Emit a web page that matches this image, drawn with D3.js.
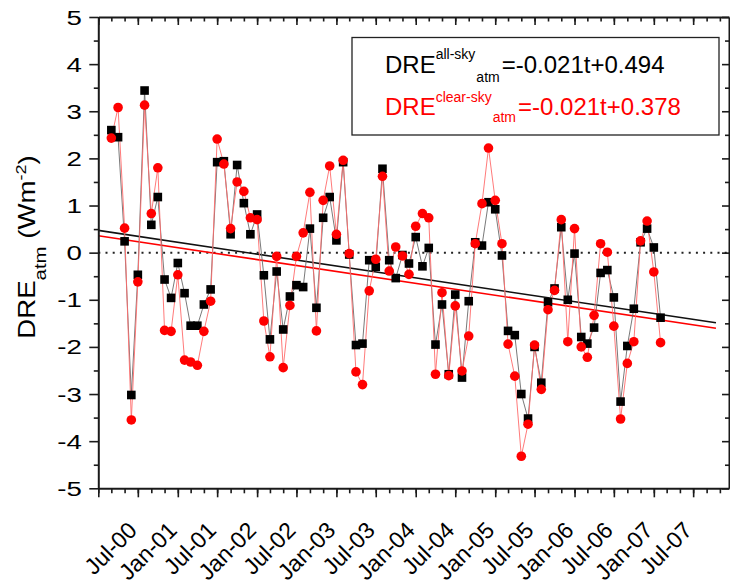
<!DOCTYPE html>
<html><head><meta charset="utf-8">
<script src="https://cdn.jsdelivr.net/npm/d3@7"></script>
<style>
body{margin:0;background:#fff}
svg{display:block}
text{font-family:"Liberation Sans",Arial,sans-serif}
</style>
</head><body>
<svg id="c" width="730" height="586"></svg>
<script>
// ---------------- data ----------------
const firstMonth = "2000-03";           // first monthly value (Mar-2000)
const allSky = [2.60,2.45,0.24,-3.02,-0.47,3.44,0.59,1.18,-0.57,-0.96,-0.22,-0.86,-1.55,-1.55,-1.10,-0.78,
  1.92,1.94,0.39,1.86,1.05,0.39,0.81,-0.48,-1.84,-0.40,-1.63,-0.93,-0.69,-0.73,0.51,-1.17,0.74,1.18,0.26,1.92,
  -0.04,-1.96,-1.93,-0.16,-0.30,1.78,-0.16,-0.54,-0.05,-0.23,0.33,-0.29,0.10,-1.95,-1.10,-2.58,-0.89,-2.65,
  -1.03,0.22,0.15,1.07,0.92,-0.06,-1.66,-1.75,-3.00,-3.52,-2.00,-2.76,-1.05,-0.76,0.54,-1.00,-0.02,-1.79,
  -1.93,-1.59,-0.43,-0.37,-0.95,-3.16,-1.98,-1.19,0.22,0.51,0.11,-1.38];
const clearSky = [2.43,3.08,0.52,-3.55,-0.62,3.13,0.83,1.80,-1.65,-1.67,-0.47,-2.28,-2.32,-2.39,-1.67,-1.03,
  2.41,1.88,0.51,1.50,1.30,0.74,0.70,-1.45,-2.21,-0.08,-2.44,-1.12,-0.08,0.42,1.28,-1.66,1.11,1.84,0.39,1.96,
  -0.02,-2.53,-2.80,-0.81,-0.14,1.62,-0.39,0.12,-0.07,-0.46,0.56,0.83,0.74,-2.58,-0.85,-2.61,-1.13,-2.51,
  -1.77,0.19,1.04,2.22,1.11,0.19,-1.94,-2.62,-4.32,-3.64,-1.96,-2.90,-1.21,-0.80,0.70,-1.89,0.51,-2.00,
  -2.22,-1.33,0.19,0.01,-1.56,-3.53,-2.35,-1.89,0.25,0.67,-0.41,-1.91];
const xTickLabels = ["Jul-00","Jan-01","Jul-01","Jan-02","Jul-02","Jan-03","Jul-03","Jan-04",
  "Jul-04","Jan-05","Jul-05","Jan-06","Jul-06","Jan-07","Jul-07"];
const yTicks = [-5,-4,-3,-2,-1,0,1,2,3,4,5];
const seriesNames = ["all-sky","clear-sky"];
const trendSlope = [-0.021,-0.021];
const trendIntercept = [0.494,0.378];
const trendRange = ["2000-01-01","2007-10-14"];

// ---------------- layout ----------------
const svg = d3.select("#c");
const L = 98.3, R = 729, T = 17, B = 488.3;
const parseM = d3.timeParse("%Y-%m");
const parseD = d3.timeParse("%Y-%m-%d");
const parseLab = d3.timeParse("%b-%y");
const x0 = parseD("2000-01-01");
const x = d3.scaleTime().domain([x0, parseD("2007-12-13")]).range([L, R]);
const y = d3.scaleLinear().domain([-5, 5]).range([B, T]);
const start = parseM(firstMonth);
const dates = allSky.map((_, i) => d3.timeMonth.offset(start, i));

const majorX = [x0].concat(xTickLabels.map(s => parseLab(s)));
const minorX = d3.timeMonth.every(2).range(x0, parseD("2007-12-13"));
const minorY = d3.range(-4.5, 5, 1);

function styleAxis(g, w) {
  g.select(".domain").attr("stroke", "#1a1a1a").attr("stroke-width", 2);
  g.selectAll(".tick line").attr("stroke", "#1a1a1a").attr("stroke-width", w || 1.6);
}

// zero dotted line
svg.append("line").attr("x1", L).attr("x2", R).attr("y1", y(0)).attr("y2", y(0))
  .attr("stroke", "#222").attr("stroke-width", 2).attr("stroke-dasharray", "2,5.2");

// trend lines
const tMonths = d => d3.timeMonth.count(x0, d) + (d - d3.timeMonth.floor(d)) / (30.44 * 864e5) + 1;
const trendColors = ["#111", "#ff0000"];
[0, 1].forEach(k => {
  const ends = trendRange.map(s => parseD(s));
  svg.append("path")
    .attr("d", d3.line().x(d => x(d)).y(d => y(trendIntercept[k] + trendSlope[k] * tMonths(d)))(ends))
    .attr("stroke", trendColors[k]).attr("stroke-width", 1.6).attr("fill", "none");
});

// series lines
const line = d3.line().x((d, i) => x(dates[i])).y(d => y(d));
svg.append("path").attr("d", line(allSky)).attr("fill", "none")
  .attr("stroke", "#6a6a6a").attr("stroke-width", 0.9);
svg.append("path").attr("d", line(clearSky)).attr("fill", "none")
  .attr("stroke", "#ff6b6b").attr("stroke-width", 0.9);

// markers
const sq = 8.6;
svg.append("g").selectAll("rect").data(allSky).join("rect")
  .attr("x", (d, i) => x(dates[i]) - sq / 2).attr("y", d => y(d) - sq / 2)
  .attr("width", sq).attr("height", sq).attr("fill", "#000");
svg.append("g").selectAll("circle").data(clearSky).join("circle")
  .attr("cx", (d, i) => x(dates[i])).attr("cy", d => y(d)).attr("r", 4.8).attr("fill", "#ff0000");

// axes
const gB = svg.append("g").attr("transform", `translate(0,${B})`)
  .call(d3.axisBottom(x).tickValues(majorX).tickSize(9).tickSizeOuter(0)
    .tickFormat((d, i) => i === 0 ? "" : xTickLabels[i - 1]));
styleAxis(gB);
gB.selectAll("text").attr("x", 0).attr("y", 0).attr("dy", 0)
  .attr("text-anchor", "end").attr("fill", "#000").style("font-size", "23px")
  .attr("transform", "translate(0,43.5) rotate(-45)");
const gBm = svg.append("g").attr("transform", `translate(0,${B})`)
  .call(d3.axisBottom(x).tickValues(minorX).tickSize(5).tickSizeOuter(0).tickFormat(""));
styleAxis(gBm); gBm.select(".domain").remove();

const gT = svg.append("g").attr("transform", `translate(0,${T})`)
  .call(d3.axisBottom(x).tickValues(majorX).tickSize(8).tickSizeOuter(0).tickFormat(""));
styleAxis(gT);
const gTm = svg.append("g").attr("transform", `translate(0,${T})`)
  .call(d3.axisBottom(x).tickValues(minorX).tickSize(4.5).tickSizeOuter(0).tickFormat(""));
styleAxis(gTm); gTm.select(".domain").remove();

const gL = svg.append("g").attr("transform", `translate(${L},0)`)
  .call(d3.axisLeft(y).tickValues(yTicks).tickSize(9).tickSizeOuter(0).tickFormat(d => String(d)));
styleAxis(gL);
gL.selectAll("text").attr("x", 0).attr("dy", "0.36em").attr("fill", "#000")
  .style("font-size", "19.5px").attr("transform", "translate(-16.5,0) scale(1.42,1)");
const gLm = svg.append("g").attr("transform", `translate(${L},0)`)
  .call(d3.axisLeft(y).tickValues(minorY).tickSize(4.5).tickSizeOuter(0).tickFormat(""));
styleAxis(gLm); gLm.select(".domain").remove();

const gR = svg.append("g").attr("transform", `translate(${R},0)`)
  .call(d3.axisLeft(y).tickValues(yTicks).tickSize(7).tickSizeOuter(0).tickFormat(""));
styleAxis(gR);
const gRm = svg.append("g").attr("transform", `translate(${R},0)`)
  .call(d3.axisLeft(y).tickValues(minorY).tickSize(4).tickSizeOuter(0).tickFormat(""));
styleAxis(gRm); gRm.select(".domain").remove();

// y title
const yt = svg.append("text").attr("transform", "translate(35,247) rotate(-90) scale(1.2,1)")
  .attr("text-anchor", "middle").style("font-size", "23px").attr("fill", "#000");
yt.append("tspan").text("DRE");
yt.append("tspan").text("atm").style("font-size", "17px").attr("dy", 11);
yt.append("tspan").text(" (Wm").attr("dy", -11);
yt.append("tspan").text("-2").style("font-size", "15px").attr("dy", -9);
yt.append("tspan").text(")").attr("dy", 9);

// legend
svg.append("rect").attr("x", 352).attr("y", 37.5).attr("width", 367).attr("height", 97.5)
  .attr("fill", "#fff").attr("stroke", "#222").attr("stroke-width", 1.3);
const legColors = ["#000", "#ff0000"];
const legY = [73.3, 115];
const supDy = [-14, -13.3], subDy = [22.4, 20];
const fmt = v => v.toFixed(3);
[0, 1].forEach(k => {
  const t = svg.append("text").attr("x", 385).attr("y", legY[k]).attr("fill", legColors[k])
    .style("font-size", "24px");
  t.append("tspan").text("DRE");
  t.append("tspan").text(seriesNames[k]).style("font-size", "14px").attr("dy", supDy[k]);
  t.append("tspan").text("atm").style("font-size", "14px").attr("dy", subDy[k]).attr("dx", 1);
  t.append("tspan").text("=" + fmt(trendSlope[k]) + "t+" + fmt(trendIntercept[k]))
    .attr("dy", -(supDy[k] + subDy[k])).attr("dx", 2);
});
</script>
</body></html>
